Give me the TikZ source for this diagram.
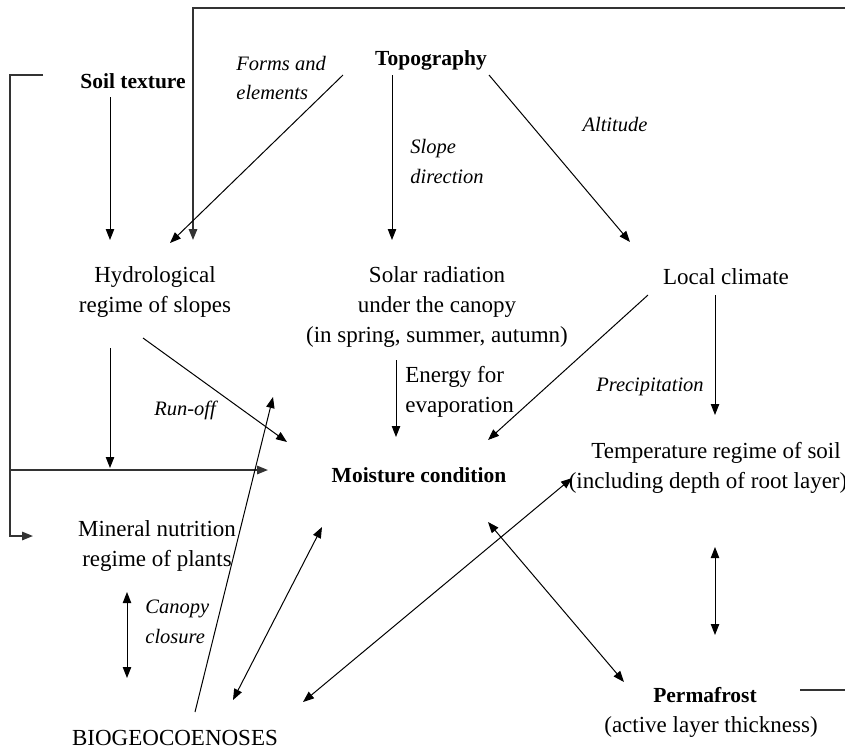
\documentclass[tikz,border=0pt]{standalone}
\usepackage{fontspec}
\setmainfont{Liberation Serif}
\usetikzlibrary{arrows.meta}
\begin{document}
\begin{tikzpicture}[x=0.5pt,y=-0.5pt,
  reg/.style={font=\fontsize{11.5}{15}\selectfont, align=center, inner sep=0pt},
  bld/.style={font=\fontsize{10.75}{14}\selectfont\bfseries, inner sep=0pt},
  itl/.style={font=\fontsize{10.25}{14.75}\selectfont\itshape, inner sep=0pt},
  arr/.style={line width=0.5pt, -{Triangle[length=5.5pt,width=4.2pt]}},
  darr/.style={line width=0.5pt, {Triangle[length=5.5pt,width=4.2pt]}-{Triangle[length=5.5pt,width=4.2pt]}},
  frame/.style={line width=0.9pt, black!80},
  farr/.style={frame, -{Triangle[length=5.5pt,width=4.2pt]}}]
\fill[white] (0,0) rectangle (845,751);
\useasboundingbox (0,0) rectangle (845,751);

% nodes
\node[bld] (soil) at (133,81) {Soil texture};
\node[bld] (topo) at (431,60) {Topography};
\node[itl, align=left, anchor=west] (forms) at (236,78) {Forms and\\elements};
\node[itl, align=left, anchor=west] (slope) at (410,161.5) {Slope\\direction};
\node[itl] (alt) at (615,125) {Altitude};
\node[reg] (hydro) at (155,292) {Hydrological\\regime of slopes};
\node[reg] (solar) at (437,307) {Solar radiation\\under the canopy\\(in spring, summer, autumn)};
\node[reg] (local) at (726,277) {Local climate};
\node[reg, align=left, anchor=west] (energy) at (405,392) {Energy for\\evaporation};
\node[itl] (runoff) at (185,410) {Run-off};
\node[itl] (precip) at (650,387) {Precipitation};
\node[bld] (moist) at (419,475) {Moisture condition};
\node[reg] (temp) at (716,453) {Temperature regime of soil};
\node[reg] (tempb) at (708,483) {(including depth of root layer)};
\node[reg] (mineral) at (157,546) {Mineral nutrition\\regime of plants};
\node[itl, align=left, anchor=west] (canopy) at (145,622) {Canopy\\closure};
\node[reg] (biogeo) at (175,738) {BIOGEOCOENOSES};
\node[bld] (perma) at (705,695) {Permafrost};
\node[reg] (active) at (711,727) {(active layer thickness)};

% connector end points
\coordinate (fr0) at (845,8);
\coordinate (fr1) at (193,8);
\coordinate (frE) at (193,240);
\coordinate (br0) at (43,75);
\coordinate (br1) at (10,75);
\coordinate (br2) at (10,536);
\coordinate (brE) at (33,536);
\coordinate (hz0) at (10,470);
\coordinate (hzE) at (268,470);
\coordinate (soilO) at (110,97);
\coordinate (hydroI1) at (110,240);
\coordinate (topoO1) at (343,75);
\coordinate (hydroI2) at (170,243);
\coordinate (topoO2) at (392,75);
\coordinate (solarI) at (392,240);
\coordinate (topoO3) at (489,75);
\coordinate (localI) at (630,242);
\coordinate (hydroO1) at (143,338);
\coordinate (moistI1) at (287,442);
\coordinate (hydroO2) at (110,348);
\coordinate (hydroE2) at (110,468);
\coordinate (bioO) at (195,712);
\coordinate (bioE) at (273,397);
\coordinate (solarO) at (396,360);
\coordinate (moistI2) at (396,437);
\coordinate (localO1) at (648,295);
\coordinate (moistI3) at (488,440);
\coordinate (localO2) at (715,295);
\coordinate (tempI) at (715,415);
\coordinate (tempB) at (572,478);
\coordinate (bioT) at (303,702);
\coordinate (moistB) at (322,527);
\coordinate (bioM) at (233,700);
\coordinate (moistP) at (488,522);
\coordinate (permaM) at (624,682);
\coordinate (tempP) at (715,547);
\coordinate (permaT) at (715,635);
\coordinate (canT) at (127,592);
\coordinate (canB) at (127,678);
\coordinate (pl0) at (800,690);
\coordinate (pl1) at (845,690);

% frame lines
\draw[farr] (fr0) -- (fr1) -- (frE);
\draw[farr] (br0) -- (br1) -- (br2) -- (brE);
\draw[farr] (hz0) -- (hzE);
\draw[frame] (pl0) -- (pl1);

% arrows
\draw[arr] (soilO) -- (hydroI1);
\draw[arr] (topoO1) -- (hydroI2);
\draw[arr] (topoO2) -- (solarI);
\draw[arr] (topoO3) -- (localI);
\draw[arr] (hydroO1) -- (moistI1);
\draw[arr] (hydroO2) -- (hydroE2);
\draw[arr] (bioO) -- (bioE);
\draw[arr] (solarO) -- (moistI2);
\draw[arr] (localO1) -- (moistI3);
\draw[arr] (localO2) -- (tempI);
\draw[darr] (tempB) -- (bioT);
\draw[darr] (moistB) -- (bioM);
\draw[darr] (moistP) -- (permaM);
\draw[darr] (tempP) -- (permaT);
\draw[darr] (canT) -- (canB);
\end{tikzpicture}
\end{document}
